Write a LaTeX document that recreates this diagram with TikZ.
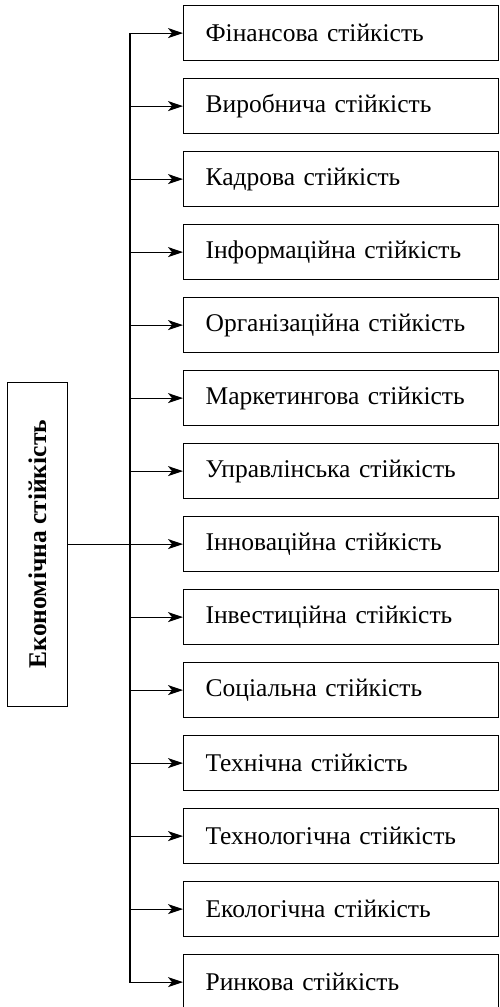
\documentclass[tikz,border=0pt]{standalone}
\usepackage{fontspec}
\setmainfont{Liberation Serif}
\usepackage{tikz}
\usetikzlibrary{positioning, arrows.meta}
\tikzset{
    kind/.style={rectangle, draw=black, line width=1.2pt, fill=white, anchor=north west, minimum width=315pt, minimum height=55pt, text width=271pt, align=left, font=\fontsize{25.5}{29}\selectfont},
    whole/.style={rectangle, draw=black, line width=1.2pt, fill=white, minimum width=60pt, minimum height=324pt, inner sep=0pt, font=\fontsize{25.5}{29}\selectfont\bfseries},
    arrow/.style={-{Stealth[length=15pt, width=10pt, inset=4pt]}, line width=1.2pt}
}

\begin{document}
\begin{tikzpicture}[x=1pt, y=-1pt, node distance=16.8pt]
        \useasboundingbox (0,0) rectangle (499,1007);

        % Kinds of stability
        \node[kind] (Fin) at (183,5) {Фінансова стійкість};
        \node[kind, below=of Fin] (Vyr) {Виробнича стійкість};
        \node[kind, below=of Vyr] (Kadr) {Кадрова стійкість};
        \node[kind, below=of Kadr] (Inform) {Інформаційна стійкість};
        \node[kind, below=of Inform] (Org) {Організаційна стійкість};
        \node[kind, below=of Org] (Market) {Маркетингова стійкість};
        \node[kind, below=of Market] (Upr) {Управлінська стійкість};
        \node[kind, below=of Upr] (Innov) {Інноваційна стійкість};
        \node[kind, below=of Innov] (Invest) {Інвестиційна стійкість};
        \node[kind, below=of Invest] (Soc) {Соціальна стійкість};
        \node[kind, below=of Soc] (Tekhn) {Технічна стійкість};
        \node[kind, below=of Tekhn] (Tekhnol) {Технологічна стійкість};
        \node[kind, below=of Tekhnol] (Ekol) {Екологічна стійкість};
        \node[kind, below=of Ekol] (Rynok) {Ринкова стійкість};

        % Economic stability
        \node[whole, left=115pt of Innov.west] (Econ) {\rotatebox{90}{Економічна стійкість}};
        \coordinate[left=53pt of Innov.west] (Trunk);

        % Connections
        \draw[line width=1.2pt] (Econ.east) -- (Trunk);
        \draw[arrow] (Trunk) |- (Fin);
        \draw[arrow] (Trunk) |- (Vyr);
        \draw[arrow] (Trunk) |- (Kadr);
        \draw[arrow] (Trunk) |- (Inform);
        \draw[arrow] (Trunk) |- (Org);
        \draw[arrow] (Trunk) |- (Market);
        \draw[arrow] (Trunk) |- (Upr);
        \draw[arrow] (Trunk) |- (Innov);
        \draw[arrow] (Trunk) |- (Invest);
        \draw[arrow] (Trunk) |- (Soc);
        \draw[arrow] (Trunk) |- (Tekhn);
        \draw[arrow] (Trunk) |- (Tekhnol);
        \draw[arrow] (Trunk) |- (Ekol);
        \draw[arrow] (Trunk) |- (Rynok);

    \end{tikzpicture}
\end{document}
